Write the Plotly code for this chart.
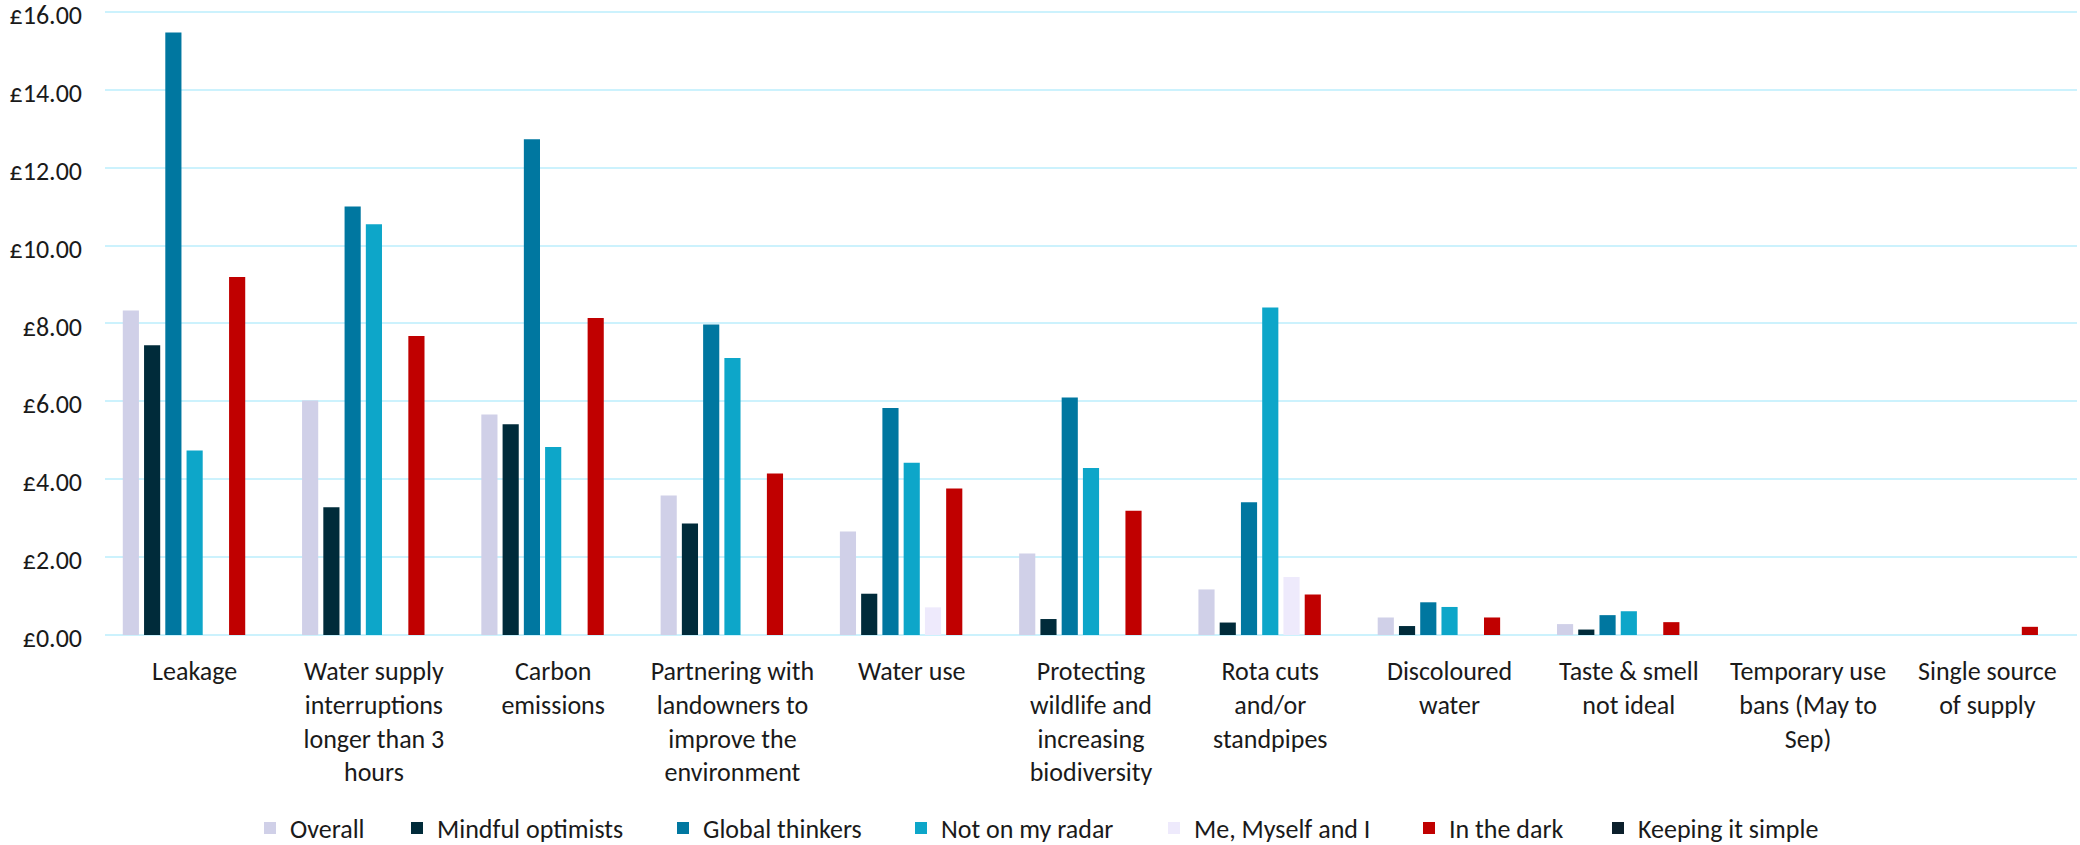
import plotly.graph_objects as go

categories = [
    "Leakage",
    "Water supply<br>interruptions<br>longer than 3<br>hours",
    "Carbon<br>emissions",
    "Partnering with<br>landowners to<br>improve the<br>environment",
    "Water use",
    "Protecting<br>wildlife and<br>increasing<br>biodiversity",
    "Rota cuts<br>and/or<br>standpipes",
    "Discoloured<br>water",
    "Taste & smell<br>not ideal",
    "Temporary use<br>bans (May to<br>Sep)",
    "Single source<br>of supply",
]

overall = [8.33, 6.02, 5.66, 3.58, 2.66, 2.09, 1.17, 0.45, 0.28, 0.0, 0.0]
mindful_optimists = [7.44, 3.28, 5.41, 2.86, 1.06, 0.41, 0.32, 0.23, 0.14, 0.0, 0.0]
global_thinkers = [15.47, 11.00, 12.73, 7.97, 5.83, 6.10, 3.41, 0.84, 0.51, 0.0, 0.0]
not_on_my_radar = [4.74, 10.55, 4.83, 7.11, 4.42, 4.29, 8.41, 0.72, 0.61, 0.0, 0.0]
me_myself_and_i = [0.0, 0.0, 0.0, 0.0, 0.71, 0.0, 1.49, 0.0, 0.0, 0.0, 0.0]
in_the_dark = [9.19, 7.68, 8.14, 4.15, 3.76, 3.19, 1.04, 0.45, 0.33, 0.0, 0.21]
keeping_it_simple = [0.0] * 11

series_names = [
    "Overall",
    "Mindful optimists",
    "Global thinkers",
    "Not on my radar",
    "Me, Myself and I",
    "In the dark",
    "Keeping it simple",
]
series_values = [
    overall,
    mindful_optimists,
    global_thinkers,
    not_on_my_radar,
    me_myself_and_i,
    in_the_dark,
    keeping_it_simple,
]
series_colors = ["#D0D0E8", "#002B3A", "#0077A0", "#0DA6C9", "#EEEAFC", "#C00000", "#0B1F2B"]

y_ticks = [0, 2, 4, 6, 8, 10, 12, 14, 16]
y_tick_labels = ["£%.2f" % v for v in y_ticks]

FONT = "Carlito, Lato, sans-serif"
SIZE = 26
TEXT = "#1a1a1a"
GRID = "#CCF2FD"
W, H = 2080, 845

# Each series gets its own one-entry legend so the row can be spaced freely:
# left edge of each entry's label, in page pixels
legend_label_left = [294, 441, 707, 945, 1198, 1453, 1642]
LEGEND_TEXT_OFFSET = 44
LEGEND_CENTER_Y = 828

fig = go.Figure()
legend_layouts = {}
for i, (name, vals, col) in enumerate(zip(series_names, series_values, series_colors)):
    key = "legend" if i == 0 else "legend%d" % (i + 1)
    fig.add_trace(go.Bar(
        name=name,
        x=categories,
        y=vals,
        marker=dict(color=col, line=dict(width=0)),
        legend=key,
    ))
    legend_layouts[key] = dict(
        orientation="h",
        xref="container",
        yref="container",
        x=(legend_label_left[i] - LEGEND_TEXT_OFFSET) / W,
        xanchor="left",
        y=1 - LEGEND_CENTER_Y / H,
        yanchor="middle",
        font=dict(family=FONT, size=SIZE, color=TEXT),
        itemwidth=30,
        bgcolor="rgba(0,0,0,0)",
    )

fig.update_layout(
    width=W,
    height=H,
    barmode="group",
    bargap=0.17,
    bargroupgap=0.24,
    plot_bgcolor="white",
    paper_bgcolor="white",
    margin=dict(l=105, r=3, t=8, b=210),
    font=dict(family=FONT, size=SIZE, color=TEXT),
    showlegend=True,
    xaxis=dict(
        type="category",
        automargin=False,
        showgrid=False,
        showline=False,
        ticks="",
        tickangle=0,
        tickfont=dict(family=FONT, size=SIZE, color=TEXT),
        ticklabelstandoff=18,
    ),
    yaxis=dict(
        range=[0, 16.1],
        automargin=False,
        tickvals=y_ticks,
        ticktext=y_tick_labels,
        ticklabeloverflow="allow",
        ticklabelshift=3,
        showgrid=True,
        gridcolor=GRID,
        gridwidth=1.5,
        zeroline=True,
        zerolinecolor=GRID,
        zerolinewidth=2,
        showline=False,
        ticks="",
        tickfont=dict(family=FONT, size=SIZE, color=TEXT),
        ticklabelstandoff=22,
    ),
    **legend_layouts,
)

fig.write_html("out.html")
